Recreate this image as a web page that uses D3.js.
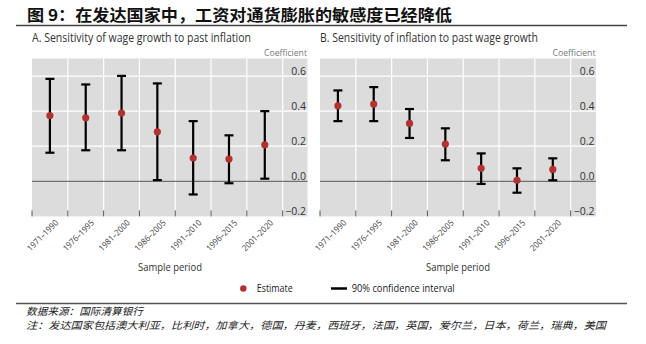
<!DOCTYPE html>
<html><head><meta charset="utf-8">
<script src="https://cdn.jsdelivr.net/npm/d3@7"></script>
<style>
html,body{margin:0;padding:0;background:#fff;}
svg{display:block;}
</style></head>
<body>
<svg id="c" width="646" height="344"></svg>
<script>
const periods = ["1971–1990","1976–1995","1981–2000","1986–2005","1991–2010","1996–2015","2001–2020"];
const wageEst  = [0.375,0.362,0.389,0.282,0.133,0.127,0.208];
const wageLow  = [0.163,0.177,0.177,0.007,-0.075,-0.011,0.015];
const wageHigh = [0.584,0.552,0.601,0.558,0.343,0.262,0.400];
const inflEst  = [0.430,0.440,0.330,0.212,0.074,0.006,0.068];
const inflLow  = [0.343,0.343,0.247,0.120,-0.015,-0.065,0.006];
const inflHigh = [0.518,0.537,0.412,0.302,0.159,0.074,0.131];
const yTicks = [-0.2,0.0,0.2,0.4,0.6];
const yDomain = [-0.2,0.7];
const titleText = "图 9：在发达国家中，工资对通货膨胀的敏感度已经降低";
const panelTitles = ["A. Sensitivity of wage growth to past inflation","B. Sensitivity of inflation to past wage growth"];
const sourceText = "数据来源：国际清算银行";
const noteText = "注：发达国家包括澳大利亚，比利时，加拿大，德国，丹麦，西班牙，法国，英国，爱尔兰，日本，荷兰，瑞典，美国";

const svg = d3.select("#c");
const LAT = "'Open Sans','Noto Sans',sans-serif";
const CJK = "'Noto Sans CJK SC',sans-serif";

function fit(sel, w){
  const n = sel.node();
  const L = n.getComputedTextLength();
  if (Math.abs(L - w) > 1) sel.attr("textLength", w).attr("lengthAdjust","spacingAndGlyphs");
  return sel;
}

// Title
fit(svg.append("text").attr("x",27).attr("y",21).attr("font-family",CJK).attr("font-weight","bold")
  .attr("font-size",16).attr("fill","#111").text(titleText), 425);
svg.append("line").attr("x1",16).attr("x2",627).attr("y1",25.5).attr("y2",25.5)
  .attr("stroke","#444").attr("stroke-width",1.3);

const y = d3.scaleLinear().domain(yDomain).range([216.4,58.5]);
const fmt = d3.format(".1f");

const panels = [
  {x0:32, right:307.5, est:wageEst, low:wageLow, high:wageHigh, title:panelTitles[0], tw:219, cx:170},
  {x0:320, right:596, est:inflEst, low:inflLow, high:inflHigh, title:panelTitles[1], tw:218, cx:458}
];

panels.forEach(p => {
  const x = d3.scaleBand().domain(periods).range([p.x0, p.x0+250.7]).padding(0);
  const g = svg.append("g");
  fit(g.append("text").attr("x",p.x0).attr("y",41.5).attr("font-family",LAT).attr("font-size",12)
    .attr("fill","#333").text(p.title), p.tw);
  fit(g.append("text").attr("x",p.right-0.5).attr("y",56).attr("text-anchor","end").attr("font-family",LAT)
    .attr("font-size",9.5).attr("fill","#777").text("Coefficient"), 43);
  // background
  g.append("rect").attr("x",p.x0).attr("y",y(yDomain[1])).attr("width",p.right-p.x0)
    .attr("height",y(yDomain[0])-y(yDomain[1])).attr("fill","#dcdcdc");
  // horizontal gridlines
  g.selectAll(".hg").data(yTicks.filter(t=>t>0)).join("line")
    .attr("x1",p.x0).attr("x2",p.right).attr("y1",d=>y(d)).attr("y2",d=>y(d))
    .attr("stroke","#fff").attr("stroke-width",1.2);
  // vertical gridlines at band boundaries
  const bounds = periods.map(d=>x(d)).concat([x(periods[periods.length-1])+x.bandwidth()]);
  g.selectAll(".vg").data(bounds.slice(1)).join("line")
    .attr("x1",d=>d).attr("x2",d=>d).attr("y1",y(yDomain[1])).attr("y2",y(yDomain[0]))
    .attr("stroke","#fff").attr("stroke-width",1.2);
  // zero line
  g.append("line").attr("x1",p.x0).attr("x2",p.right).attr("y1",y(0)).attr("y2",y(0))
    .attr("stroke","#555").attr("stroke-width",1);
  // bottom ticks
  g.selectAll(".bt").data(bounds).join("line")
    .attr("x1",d=>d).attr("x2",d=>d).attr("y1",y(yDomain[0])-6).attr("y2",y(yDomain[0]))
    .attr("stroke","#555").attr("stroke-width",1);
  // y labels
  g.selectAll(".yl").data(yTicks).join("text")
    .attr("x",p.right-1.5).attr("y",d=>y(d)-1.5).attr("text-anchor","end")
    .attr("font-family",LAT).attr("font-size",10.5).attr("fill","#333").text(d=>fmt(d));
  // x labels
  g.selectAll(".xl").data(periods).join("text")
    .attr("transform",d=>`translate(${x(d)+x.bandwidth()/2+9},${y(yDomain[0])+7}) rotate(-45)`)
    .attr("text-anchor","end").attr("font-family",LAT).attr("font-size",8.5).attr("fill","#444")
    .text(d=>d).each(function(){ fit(d3.select(this), 40); });
  fit(g.append("text").attr("x",p.cx).attr("y",270.5).attr("text-anchor","middle").attr("font-family",LAT)
    .attr("font-size",11).attr("fill","#333").text("Sample period"), 64);
  // error bars
  const eb = g.selectAll(".eb").data(periods).join("g");
  const cx = d=>x(d)+x.bandwidth()/2;
  eb.append("line").attr("x1",cx).attr("x2",cx).attr("y1",(d,i)=>y(p.low[i])).attr("y2",(d,i)=>y(p.high[i]))
    .attr("stroke","#000").attr("stroke-width",2.2);
  eb.append("line").attr("x1",d=>cx(d)-4.5).attr("x2",d=>cx(d)+4.5).attr("y1",(d,i)=>y(p.low[i])).attr("y2",(d,i)=>y(p.low[i]))
    .attr("stroke","#000").attr("stroke-width",2.2);
  eb.append("line").attr("x1",d=>cx(d)-4.5).attr("x2",d=>cx(d)+4.5).attr("y1",(d,i)=>y(p.high[i])).attr("y2",(d,i)=>y(p.high[i]))
    .attr("stroke","#000").attr("stroke-width",2.2);
  eb.append("circle").attr("cx",cx).attr("cy",(d,i)=>y(p.est[i])).attr("r",3.6).attr("fill","#b3312f");
});

// Legend
svg.append("circle").attr("cx",243.3).attr("cy",288.5).attr("r",3.2).attr("fill","#b3312f");
fit(svg.append("text").attr("x",256.7).attr("y",292.3).attr("font-family",LAT).attr("font-size",10.5)
  .attr("fill","#222").text("Estimate"), 36);
svg.append("line").attr("x1",331).attr("x2",347).attr("y1",288.5).attr("y2",288.5).attr("stroke","#000").attr("stroke-width",2.5);
fit(svg.append("text").attr("x",351.7).attr("y",292.3).attr("font-family",LAT).attr("font-size",10.5)
  .attr("fill","#222").text("90% confidence interval"), 103);

// Footer
svg.append("line").attr("x1",16).attr("x2",627).attr("y1",303.5).attr("y2",303.5).attr("stroke","#555").attr("stroke-width",1.3);
fit(svg.append("text").attr("x",26).attr("y",315).attr("font-family",CJK).attr("font-style","italic")
  .attr("font-size",10).attr("fill","#222").text(sourceText), 117);
fit(svg.append("text").attr("x",26).attr("y",328.5).attr("font-family",CJK).attr("font-style","italic")
  .attr("font-size",10).attr("fill","#222").text(noteText), 580);
</script>
</body></html>
